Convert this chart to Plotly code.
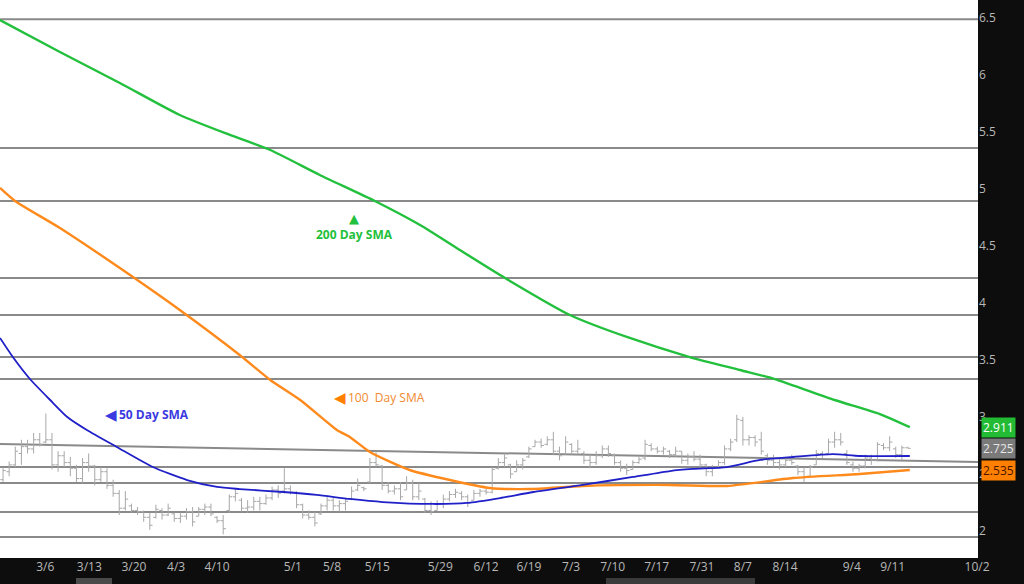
import plotly.graph_objects as go

# ---------------- data ----------------
high = [2.56,2.61,2.74,2.80,2.80,2.86,2.86,3.03,2.86,2.70,2.70,2.65,2.58,2.64,2.68,2.58,2.56,2.55,2.45,2.36,
        2.35,2.24,2.21,2.18,2.16,2.23,2.20,2.24,2.16,2.16,2.20,2.21,2.21,2.24,2.24,2.13,2.14,2.32,2.37,2.29,
        2.27,2.30,2.30,2.32,2.39,2.40,2.55,2.40,2.35,2.24,2.18,2.17,2.24,2.30,2.29,2.27,2.29,
        2.39,2.46,2.39,2.64,2.70,2.58,2.43,2.40,2.43,2.48,2.45,2.42,2.29,2.26,2.27,2.32,2.35,2.37,2.35,2.32,
        2.36,2.37,2.37,2.56,2.64,2.68,2.59,2.62,2.64,2.74,2.80,2.81,2.83,2.87,2.74,2.83,2.77,2.80,2.70,2.67,
        2.70,2.75,2.75,2.68,2.62,2.59,2.62,2.65,2.80,2.77,2.74,2.74,2.71,
        2.74,2.70,2.68,2.70,2.67,2.59,2.58,2.62,2.75,2.81,3.02,3.00,2.84,2.84,2.87,2.68,2.67,2.65,2.65,2.67,
        2.58,2.56,2.58,2.71,2.70,2.81,2.87,2.86,2.71,2.61,2.59,2.67,2.67,2.78,2.77,2.83,2.74,2.75,2.74]
low = [2.43,2.48,2.56,2.58,2.68,2.68,2.74,2.77,2.54,2.52,2.56,2.48,2.43,2.42,2.52,2.40,2.43,2.37,2.30,2.14,
       2.18,2.16,2.14,2.08,2.01,2.11,2.10,2.13,2.08,2.07,2.10,2.04,2.13,2.14,2.13,2.07,1.97,2.16,2.26,2.17,
       2.16,2.18,2.18,2.23,2.27,2.29,2.33,2.32,2.20,2.11,2.10,2.04,2.14,2.18,2.18,2.17,2.18,
       2.27,2.35,2.35,2.42,2.56,2.36,2.33,2.32,2.27,2.36,2.27,2.27,2.16,2.14,2.18,2.20,2.26,2.29,2.27,2.21,
       2.27,2.30,2.32,2.33,2.54,2.56,2.46,2.52,2.54,2.64,2.74,2.73,2.75,2.67,2.62,2.67,2.67,2.67,2.59,2.55,
       2.58,2.64,2.65,2.58,2.52,2.49,2.54,2.59,2.62,2.70,2.68,2.67,2.64,
       2.65,2.59,2.58,2.61,2.56,2.48,2.48,2.56,2.58,2.70,2.78,2.75,2.75,2.74,2.67,2.58,2.56,2.54,2.56,2.58,
       2.49,2.43,2.48,2.58,2.64,2.68,2.73,2.75,2.58,2.52,2.52,2.55,2.58,2.61,2.71,2.70,2.64,2.62,2.73]
open_ = [2.45,2.52,2.58,2.68,2.74,2.72,2.80,2.78,2.80,2.58,2.66,2.60,2.55,2.46,2.60,2.57,2.45,2.52,2.40,2.33,
         2.20,2.22,2.18,2.17,2.12,2.12,2.18,2.14,2.15,2.11,2.13,2.17,2.13,2.19,2.21,2.12,2.09,2.18,2.30,2.27,
         2.20,2.21,2.26,2.24,2.29,2.36,2.35,2.37,2.34,2.23,2.14,2.12,2.15,2.22,2.27,2.22,2.24,
         2.28,2.36,2.38,2.43,2.60,2.57,2.40,2.35,2.37,2.36,2.42,2.30,2.28,2.18,2.18,2.24,2.28,2.32,2.33,2.30,
         2.27,2.33,2.35,2.34,2.55,2.60,2.58,2.52,2.58,2.65,2.74,2.78,2.76,2.80,2.70,2.68,2.76,2.70,2.68,2.62,
         2.60,2.66,2.72,2.66,2.60,2.55,2.54,2.60,2.64,2.75,2.72,2.70,2.70,
         2.67,2.70,2.62,2.65,2.63,2.58,2.52,2.56,2.60,2.72,2.80,2.97,2.80,2.82,2.80,2.66,2.62,2.60,2.58,2.62,
         2.57,2.52,2.48,2.58,2.68,2.68,2.78,2.80,2.68,2.58,2.55,2.57,2.64,2.62,2.75,2.73,2.72,2.67,2.73]
close = [2.53,2.58,2.70,2.74,2.72,2.80,2.76,2.80,2.58,2.66,2.60,2.55,2.46,2.60,2.57,2.45,2.52,2.40,2.33,2.20,
         2.28,2.18,2.17,2.12,2.05,2.19,2.14,2.20,2.11,2.13,2.17,2.08,2.19,2.21,2.15,2.09,2.02,2.30,2.33,2.20,
         2.21,2.26,2.24,2.29,2.36,2.33,2.37,2.34,2.23,2.14,2.12,2.07,2.22,2.27,2.22,2.24,2.26,
         2.35,2.40,2.37,2.60,2.58,2.40,2.35,2.37,2.30,2.42,2.30,2.35,2.18,2.17,2.24,2.28,2.32,2.34,2.30,2.25,
         2.33,2.35,2.34,2.54,2.60,2.64,2.50,2.58,2.62,2.72,2.78,2.75,2.80,2.70,2.66,2.78,2.70,2.72,2.62,2.60,
         2.66,2.72,2.68,2.60,2.55,2.53,2.60,2.63,2.76,2.72,2.70,2.72,2.67,
         2.70,2.62,2.65,2.63,2.58,2.52,2.55,2.60,2.72,2.78,2.98,2.80,2.82,2.78,2.70,2.62,2.60,2.58,2.62,2.60,
         2.52,2.47,2.56,2.68,2.67,2.78,2.80,2.78,2.60,2.55,2.57,2.64,2.62,2.76,2.73,2.78,2.67,2.73,2.725]
bar_idx = list(range(len(high)))

sma200_x = [-0.5, 9.3, 19.1, 28.9, 37.1, 43.7, 51.8, 60.8, 68.2, 74.7, 82.1, 92.7, 102.5, 112.3, 120.5, 126.2, 136.0, 143.4, 148.3]
sma200_y = [6.482, 6.202, 5.930, 5.649, 5.474, 5.342, 5.123, 4.895, 4.684, 4.465, 4.219, 3.895, 3.693, 3.526, 3.412, 3.333, 3.149, 3.026, 2.911]

sma100_x = [-0.5, 1.95, 9.3, 19.1, 28.9, 38.7, 43.7, 48.6, 54.6, 56.7, 60.0, 66.5, 73.1, 79.6, 86.2, 94.8, 109.1, 118.4, 129.2, 140.1, 148.3]
sma100_y = [5.009, 4.895, 4.658, 4.307, 3.939, 3.544, 3.325, 3.149, 2.886, 2.825, 2.693, 2.535, 2.447, 2.377, 2.368, 2.395, 2.404, 2.395, 2.465, 2.500, 2.535]

sma50_x = [-0.5, 1.6, 4.4, 7.7, 10.5, 13.7, 18.6, 24.5, 30.1, 35.0, 38.7, 45.8, 51.3, 56.7, 62.1, 70.3, 75.9, 81.3, 86.7, 94.8, 103.0, 109.1, 112.8, 118.4, 123.8, 129.2, 135.7, 140.1, 148.3]
sma50_y = [3.693, 3.526, 3.333, 3.149, 3.000, 2.886, 2.737, 2.561, 2.447, 2.386, 2.368, 2.342, 2.316, 2.281, 2.254, 2.237, 2.246, 2.289, 2.342, 2.404, 2.474, 2.526, 2.544, 2.561, 2.623, 2.649, 2.675, 2.658, 2.658]

levels = [6.49, 5.36, 4.895, 4.22, 3.895, 3.526, 3.333, 2.561, 2.421, 2.167, 1.947]
trend_start, trend_end = 2.763, 2.605

tick_pos = [6.9, 14.1, 21.4, 28.3, 35.0, 47.4, 53.8, 61.2, 71.5, 79.0, 86.0, 92.9, 99.7, 106.9, 114.3, 121.0, 127.9, 138.8, 145.5, 159.3]
tick_lbl = ["3/6", "3/13", "3/20", "4/3", "4/10", "5/1", "5/8", "5/15", "5/29", "6/12", "6/19", "7/3", "7/10", "7/17", "7/31", "8/7", "8/14", "9/4", "9/11", "10/2"]

last_vals = [("2.911", 2.911, "#22bb33", "#ffffff"),
             ("2.725", 2.725, "#7a7a7a", "#e6e6e6"),
             ("2.535", 2.535, "#ff8000", "#4a1500")]

GREEN = "#22c03c"
ORANGE = "#ff8a1c"
BLUE = "#2020c8"

# ---------------- figure ----------------
fig = go.Figure()

shapes = []
for lv in levels:
    shapes.append(dict(type="line", xref="paper", x0=0, x1=1, yref="y", y0=lv, y1=lv,
                       line=dict(color="#8a8a8a", width=2), layer="below"))
shapes.append(dict(type="line", xref="paper", x0=0, x1=1, yref="y", y0=trend_start, y1=trend_end,
                   line=dict(color="#8a8a8a", width=2), layer="below"))
# bottom UI strips
shapes.append(dict(type="rect", xref="paper", yref="paper", x0=76/978, x1=112/978, y0=-0.036, y1=-0.05,
                   fillcolor="#4a4a4a", line=dict(width=0)))
shapes.append(dict(type="rect", xref="paper", yref="paper", x0=606/978, x1=755/978, y0=-0.036, y1=-0.05,
                   fillcolor="#3a3a3a", line=dict(width=0)))

fig.add_trace(go.Ohlc(x=bar_idx, open=open_, high=high, low=low, close=close,
                      increasing=dict(line=dict(color="#a8a8a8", width=1)),
                      decreasing=dict(line=dict(color="#a8a8a8", width=1)),
                      tickwidth=0.45, hoverinfo="skip", showlegend=False))

fig.add_trace(go.Scatter(x=sma200_x, y=sma200_y, mode="lines", line=dict(color=GREEN, width=2.4, shape="spline", smoothing=0.6),
                         showlegend=False, hoverinfo="skip"))
fig.add_trace(go.Scatter(x=sma100_x, y=sma100_y, mode="lines", line=dict(color=ORANGE, width=2.4, shape="spline", smoothing=0.6),
                         showlegend=False, hoverinfo="skip"))
fig.add_trace(go.Scatter(x=sma50_x, y=sma50_y, mode="lines", line=dict(color=BLUE, width=1.8, shape="spline", smoothing=0.6),
                         showlegend=False, hoverinfo="skip"))

annotations = [
    dict(x=57.4, y=4.605, text="<b>200 Day SMA</b>", showarrow=False, xanchor="center",
         font=dict(family="Open Sans", size=12, color=GREEN)),
    dict(x=57.4, y=4.74, text="▲", showarrow=False, xanchor="center",
         font=dict(family="DejaVu Sans", size=13, color=GREEN)),
    dict(x=18.6, y=3.018, text="<b>50 Day SMA</b>", showarrow=False, xanchor="left",
         font=dict(family="Open Sans", size=12, color="#3a3ae0")),
    dict(x=17.6, y=3.018, text="◀", showarrow=False, xanchor="center",
         font=dict(family="DejaVu Sans", size=15, color="#3a3ae0")),
    dict(x=56.1, y=3.167, text="100  Day SMA", showarrow=False, xanchor="left",
         font=dict(family="Open Sans", size=12, color="#f08a30")),
    dict(x=55.1, y=3.167, text="◀", showarrow=False, xanchor="center",
         font=dict(family="DejaVu Sans", size=15, color="#ff8000")),
]
for txt, val, bg, fg in last_vals:
    annotations.append(dict(xref="paper", x=1, xanchor="left", xshift=3, yref="y", y=val,
                            text=txt, showarrow=False, bgcolor=bg, borderpad=1,
                            font=dict(family="Open Sans", size=12, color=fg)))

fig.update_layout(
    width=1024, height=584,
    margin=dict(l=0, r=46, t=0, b=26),
    paper_bgcolor="#0d0d0d", plot_bgcolor="#ffffff",
    shapes=shapes, annotations=annotations,
    xaxis=dict(range=[-0.5, 159.45], tickmode="array", tickvals=tick_pos, ticktext=tick_lbl,
               showgrid=False, zeroline=False, showline=False, ticks="",
               tickfont=dict(family="Open Sans", size=12, color="#b8b8b8"),
               rangeslider=dict(visible=False), fixedrange=True),
    yaxis=dict(range=[1.763, 6.658], side="right", tickmode="array",
               tickvals=[2, 2.5, 3, 3.5, 4, 4.5, 5, 5.5, 6, 6.5],
               ticktext=["2", "2.5", "3", "3.5", "4", "4.5", "5", "5.5", "6", "6.5"],
               showgrid=False, zeroline=False, showline=False, ticks="",
               tickfont=dict(family="Open Sans", size=12, color="#b8b8b8")),
    font=dict(family="Open Sans"),
)

fig.write_html("out.html", config={"displayModeBar": False},
               post_script="document.body.style.margin='0';document.body.style.overflow='hidden';document.body.style.background='#0d0d0d';")
